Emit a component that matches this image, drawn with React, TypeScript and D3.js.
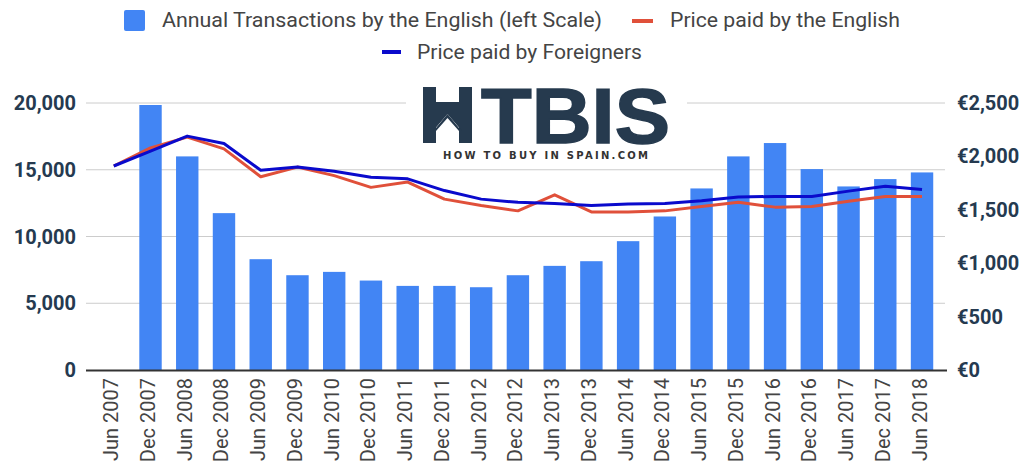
import React from "react";
import * as d3 from "d3";

const categories = [
  "Jun 2007", "Dec 2007", "Jun 2008", "Dec 2008", "Jun 2009", "Dec 2009",
  "Jun 2010", "Dec 2010", "Jun 2011", "Dec 2011", "Jun 2012", "Dec 2012",
  "Jun 2013", "Dec 2013", "Jun 2014", "Dec 2014", "Jun 2015", "Dec 2015",
  "Jun 2016", "Dec 2016", "Jun 2017", "Dec 2017", "Jun 2018",
];

const transactions: (number | null)[] = [
  null, 19850, 16000, 11750, 8300, 7100, 7350, 6700, 6300, 6300, 6200, 7100,
  7800, 8150, 9650, 11500, 13600, 16000, 17000, 15050, 13750, 14300, 14800,
];

const priceEnglish = [
  1910, 2080, 2180, 2070, 1810, 1900, 1820, 1710, 1760, 1600, 1540, 1490,
  1640, 1480, 1480, 1490, 1530, 1570, 1525, 1530, 1580, 1625, 1625,
];

const priceForeigners = [
  1910, 2050, 2190, 2120, 1870, 1900, 1860, 1805, 1790, 1680, 1600, 1570,
  1560, 1540, 1555, 1560, 1585, 1620, 1625, 1625, 1675, 1720, 1690,
];

const leftTicks = [0, 5000, 10000, 15000, 20000];
const rightTicks = [0, 500, 1000, 1500, 2000, 2500];

const legendLabels = [
  "Annual Transactions by the English (left Scale)",
  "Price paid by the English",
  "Price paid by Foreigners",
];

const BAR = "#4285f4";
const RED = "#e0503a";
const BLUE = "#0a0acc";
const AXIS_TXT = "#253a50";
const LOGO = "#263a4e";
const FONT = "Roboto, 'Liberation Sans', Arial, sans-serif";

export default function App() {
  const W = 1028, H = 476;
  const x = d3.scaleBand<string>()
    .domain(categories)
    .range([95.4, 940.4])
    .paddingInner(0.39)
    .paddingOuter(0.195);
  const bw = x.bandwidth();
  const cx = (c: string) => (x(c) as number) + bw / 2;
  const yL = d3.scaleLinear().domain([0, 20000]).range([370, 103]);
  const yR = d3.scaleLinear().domain([0, 2500]).range([370, 103]);
  const fmt = d3.format(",");

  const lineEng = d3.line<number>()
    .x((_, i) => cx(categories[i]))
    .y((d) => yR(d));

  return (
    <svg width={W} height={H} style={{ position: "absolute", left: 0, top: 0, background: "#fff" }}>
      <rect x={0} y={0} width={W} height={H} fill="#fff" />
      {/* gridlines */}
      {leftTicks.filter((t) => t > 0).map((t) => (
        <line key={t} x1={86} x2={945} y1={yL(t)} y2={yL(t)} stroke="#cccccc" strokeWidth={1} />
      ))}
      {/* bars */}
      {categories.map((c, i) =>
        transactions[i] == null ? null : (
          <rect key={c} x={x(c)} y={yL(transactions[i] as number)} width={bw}
            height={yL(0) - yL(transactions[i] as number)} fill={BAR} />
        )
      )}
      {/* baseline */}
      <line x1={86} x2={947} y1={370.5} y2={370.5} stroke="#333" strokeWidth={2} />
      {/* logo */}
      <g>
        <rect x={406} y={82} width={281} height={84} fill="#fff" />
        <rect x={423} y={87} width={13} height={56} fill={LOGO} />
        <rect x={459} y={87} width={13} height={56} fill={LOGO} />
        <polygon points="436,102 459,102 459,128 462,131 447.5,114 433,131 436,128" fill={LOGO} />
        <polygon points="436,128 447.5,114 459,128 459,131 447.5,118 436,131" fill={LOGO} />
        <text x={481} y={143} fontFamily="'Liberation Sans', Arial, sans-serif" fontWeight={700}
          fontSize={78} fill={LOGO} stroke={LOGO} strokeWidth={1.5}
          textLength={189} lengthAdjust="spacingAndGlyphs">TBIS</text>
        <text x={443} y={159} fontFamily="'DejaVu Sans', sans-serif" fontWeight={700}
          fontSize={10} fill="#333" textLength={205} lengthAdjust="spacing">HOW TO BUY IN SPAIN.COM</text>
      </g>
      {/* lines */}
      <path d={lineEng(priceEnglish) || ""} fill="none" stroke={RED} strokeWidth={3} strokeLinejoin="round" />
      <path d={lineEng(priceForeigners) || ""} fill="none" stroke={BLUE} strokeWidth={3} strokeLinejoin="round" />
      {/* left axis labels */}
      {leftTicks.map((t) => (
        <text key={t} x={76} y={yL(t) + 7} textAnchor="end" fontFamily={FONT} fontWeight={700}
          fontSize={20} fill={AXIS_TXT}>{fmt(t)}</text>
      ))}
      {/* right axis labels */}
      {rightTicks.map((t) => (
        <text key={t} x={957} y={yR(t) + 7} textAnchor="start" fontFamily={FONT} fontWeight={700}
          fontSize={20} fill={AXIS_TXT}>{"€" + fmt(t)}</text>
      ))}
      {/* x labels */}
      {categories.map((c) => {
        const tx = cx(c) + 4.5;
        const ty = 378;
        return (
          <text key={c} transform={`translate(${tx},${ty}) rotate(-90)`} textAnchor="end"
            fontFamily={FONT} fontSize={20} fill="#444">{c}</text>
        );
      })}
      {/* legend */}
      <rect x={124} y={10} width={21} height={21} rx={2} fill={BAR} />
      <text x={162} y={27.3} fontFamily={FONT} fontSize={20} fill="#444"
        textLength={440} lengthAdjust="spacingAndGlyphs">{legendLabels[0]}</text>
      <rect x={632} y={19} width={21} height={4} fill={RED} />
      <text x={670} y={27.3} fontFamily={FONT} fontSize={20} fill="#444"
        textLength={230} lengthAdjust="spacingAndGlyphs">{legendLabels[1]}</text>
      <rect x={382} y={50} width={19} height={4} fill={BLUE} />
      <text x={417} y={59} fontFamily={FONT} fontSize={20} fill="#444"
        textLength={225} lengthAdjust="spacingAndGlyphs">{legendLabels[2]}</text>
    </svg>
  );
}
